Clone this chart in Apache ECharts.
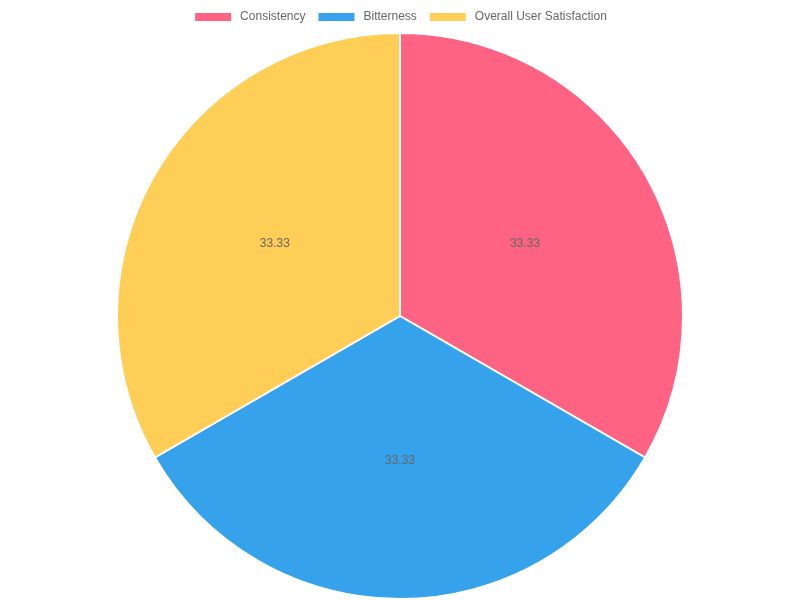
<!DOCTYPE html>
<html><head><meta charset="utf-8">
<script src="https://cdn.jsdelivr.net/npm/echarts@6/dist/echarts.min.js"></script>
<style>html,body{margin:0;padding:0;background:#fff}#c{width:800px;height:600px}</style>
</head><body><div id="c"></div>
<script>
const categories = ["Consistency", "Bitterness", "Overall User Satisfaction"];
const values = [33.33, 33.33, 33.33];
const colors = ["#FF6384", "#36A2EB", "#FFCE56"];

const chart = echarts.init(document.getElementById('c'), null, {renderer: 'canvas'});
chart.setOption({
  animation: false,
  color: colors,
  textStyle: {fontFamily: 'Liberation Sans, Arial, sans-serif'},
  legend: {
    top: 6,
    left: 'center',
    icon: 'rect',
    itemWidth: 38,
    itemHeight: 10,
    itemGap: 11,
    textStyle: {color: '#666', fontSize: 12, padding: [0, 0, 0, 3], fontFamily: 'Liberation Sans, Arial, sans-serif'},
    data: categories
  },
  series: [{
    type: 'pie',
    center: [400, 316],
    radius: [0, 283],
    startAngle: 90,
    clockwise: true,
    label: {
      show: true,
      position: 'inside',
      formatter: '{c}',
      color: '#666',
      fontSize: 12,
      fontFamily: 'Liberation Sans, Arial, sans-serif'
    },
    labelLine: {show: false},
    itemStyle: {borderColor: '#fff', borderWidth: 2},
    emphasis: {disabled: true},
    data: categories.map((n, i) => ({name: n, value: values[i]}))
  }]
});
</script>
</body></html>
